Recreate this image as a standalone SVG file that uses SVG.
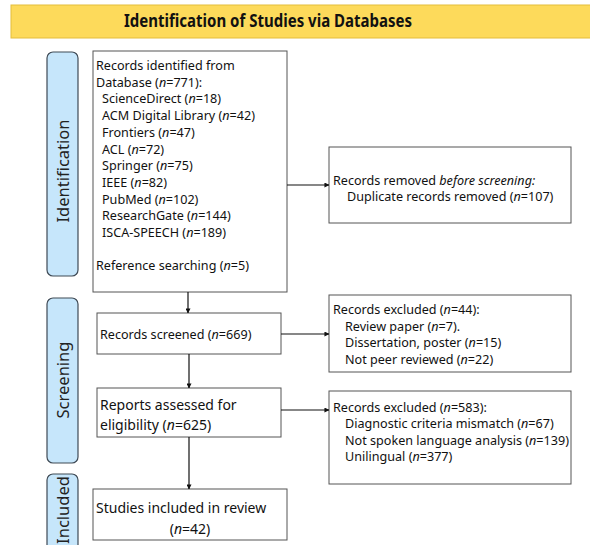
<svg xmlns="http://www.w3.org/2000/svg" width="590" height="545" viewBox="0 0 590 545">
<defs>
<style>
.box{fill:#fff;stroke:#555;stroke-width:1}
.side{fill:#c6e6fb;stroke:#3f4a55;stroke-width:1.2}
.t{font-family:"Noto Sans","Liberation Sans",sans-serif;font-size:12.6px;fill:#111}
.t2{font-family:"Noto Sans","Liberation Sans",sans-serif;font-size:14px;fill:#111}
.side-t{font-family:"Noto Sans","Liberation Sans",sans-serif;font-size:16.5px;fill:#222;text-anchor:middle}
.title{font-family:"Noto Sans","Liberation Sans",sans-serif;font-size:17px;font-weight:bold;fill:#111;text-anchor:middle}
.c{stroke:#111;stroke-width:1.2;fill:none;marker-end:url(#ah)}
</style>
<marker id="ah" viewBox="0 0 6 6" refX="5.5" refY="3" markerWidth="5" markerHeight="5" orient="auto" markerUnits="userSpaceOnUse"><path d="M0,0 L6,3 L0,6 z" fill="#111"/></marker>
</defs>
<rect width="590" height="545" fill="#fff"/>
<g id="title">
<rect x="11" y="5" width="585" height="33" fill="#fdda5b" stroke="#e4bd3c" stroke-width="1"/>
<text class="title" x="268" y="27" textLength="288" lengthAdjust="spacingAndGlyphs">Identification of Studies via Databases</text>
</g>
<g id="label-identification">
<rect class="side" x="47" y="52" width="31" height="224" rx="6"/>
<text class="side-t" transform="translate(69,171) rotate(-90)">Identification</text>
</g>
<g id="label-screening">
<rect class="side" x="47" y="298" width="31" height="165" rx="6"/>
<text class="side-t" transform="translate(69,380) rotate(-90)">Screening</text>
</g>
<g id="label-included">
<rect class="side" x="47" y="474" width="31" height="90" rx="6"/>
<text class="side-t" transform="translate(69,510) rotate(-90)">Included</text>
</g>
<g id="identified">
<rect class="box" x="93" y="51" width="194" height="241"/>
<text class="t" x="96" y="70">Records identified from</text>
<text class="t" x="96" y="86.7">Database (<tspan font-style="italic">n</tspan>=771):</text>
<text class="t" x="102" y="103.4">ScienceDirect (<tspan font-style="italic">n</tspan>=18)</text>
<text class="t" x="102" y="120.1">ACM Digital Library (<tspan font-style="italic">n</tspan>=42)</text>
<text class="t" x="102" y="136.8">Frontiers (<tspan font-style="italic">n</tspan>=47)</text>
<text class="t" x="102" y="153.5">ACL (<tspan font-style="italic">n</tspan>=72)</text>
<text class="t" x="102" y="170.2">Springer (<tspan font-style="italic">n</tspan>=75)</text>
<text class="t" x="102" y="186.9">IEEE  (<tspan font-style="italic">n</tspan>=82)</text>
<text class="t" x="102" y="203.6">PubMed (<tspan font-style="italic">n</tspan>=102)</text>
<text class="t" x="102" y="220.3">ResearchGate (<tspan font-style="italic">n</tspan>=144)</text>
<text class="t" x="102" y="237">ISCA-SPEECH (<tspan font-style="italic">n</tspan>=189)</text>
<text class="t" x="96" y="270">Reference searching (<tspan font-style="italic">n</tspan>=5)</text>
</g>
<g id="removed">
<rect class="box" x="329" y="147" width="242" height="76"/>
<text class="t" x="333" y="185">Records removed <tspan font-style="italic">before screening:</tspan></text>
<text class="t" x="347" y="201">Duplicate records removed (<tspan font-style="italic">n</tspan>=107)</text>
</g>
<g id="screened">
<rect class="box" x="97" y="313" width="184" height="41"/>
<text class="t" x="100" y="339">Records screened (<tspan font-style="italic">n</tspan>=669)</text>
</g>
<g id="excluded1">
<rect class="box" x="329" y="295" width="242" height="77"/>
<text class="t" x="333" y="314">Records excluded (<tspan font-style="italic">n</tspan>=44):</text>
<text class="t" x="345" y="331">Review paper (<tspan font-style="italic">n</tspan>=7).</text>
<text class="t" x="345" y="347">Dissertation, poster (<tspan font-style="italic">n</tspan>=15)</text>
<text class="t" x="345" y="364">Not peer reviewed (<tspan font-style="italic">n</tspan>=22)</text>
</g>
<g id="reports">
<rect class="box" x="97" y="388" width="184" height="49"/>
<text class="t2" x="100" y="410">Reports assessed for</text>
<text class="t2" x="100" y="430">eligibility (<tspan font-style="italic">n</tspan>=625)</text>
</g>
<g id="excluded2">
<rect class="box" x="329" y="391" width="242" height="93"/>
<text class="t" x="333" y="412">Records excluded (<tspan font-style="italic">n</tspan>=583):</text>
<text class="t" x="345" y="428">Diagnostic criteria mismatch (<tspan font-style="italic">n</tspan>=67)</text>
<text class="t" x="345" y="445">Not spoken language analysis (<tspan font-style="italic">n</tspan>=139)</text>
<text class="t" x="345" y="461">Unilingual (<tspan font-style="italic">n</tspan>=377)</text>
</g>
<g id="included">
<rect class="box" x="93" y="489" width="194" height="51"/>
<text class="t2" x="96" y="513">Studies included in review</text>
<text class="t2" x="190" y="534" text-anchor="middle">(<tspan font-style="italic">n</tspan>=42)</text>
</g>
<g id="connectors">
<path class="c" d="M287,185 H329"/>
<path class="c" d="M188,292 V313"/>
<path class="c" d="M281,334 H329"/>
<path class="c" d="M189,354 V388"/>
<path class="c" d="M281,410 H329"/>
<path class="c" d="M189,437 V489"/>
</g>
</svg>
